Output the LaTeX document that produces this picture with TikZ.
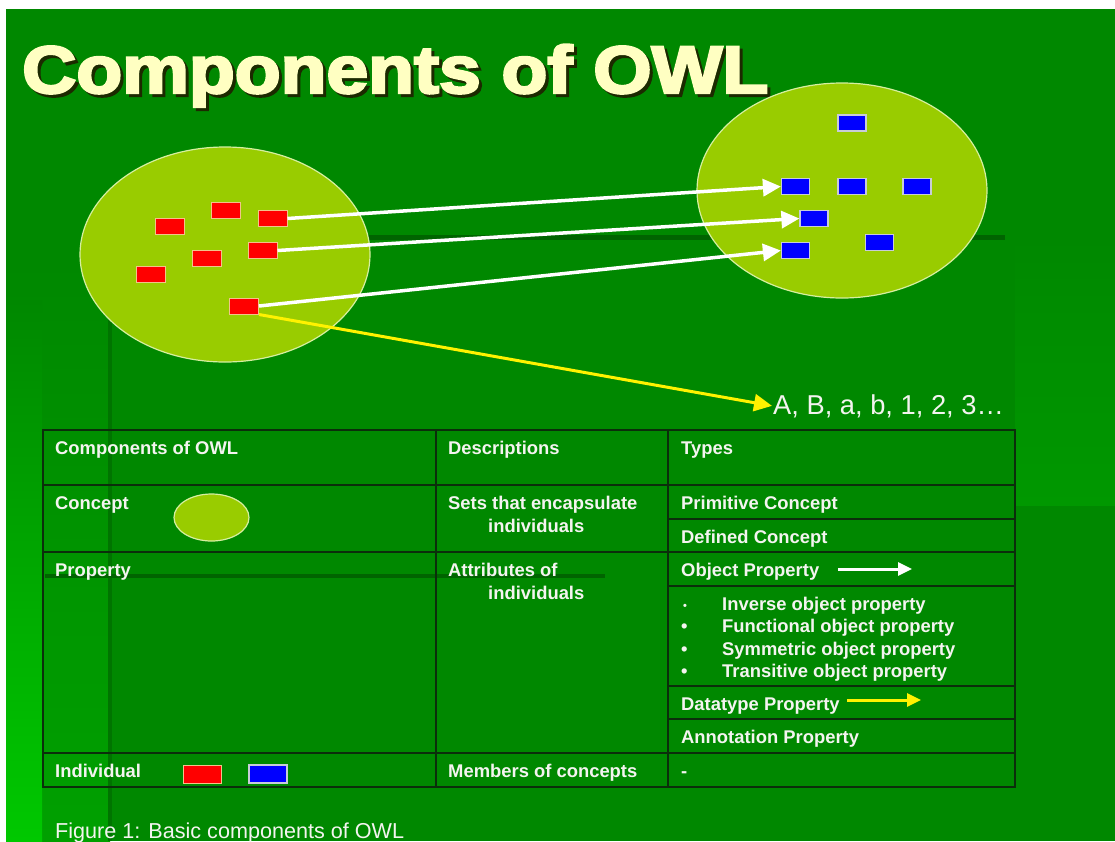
\documentclass[tikz,border=0pt]{standalone}
\usepackage{fontspec}
\setmainfont{Liberation Sans}
\newfontfamily\titlefont[FakeBold=3.5]{Liberation Sans Bold}
\usetikzlibrary{arrows.meta,shapes.geometric}

\definecolor{bggreen}{HTML}{008800}
\definecolor{brightgreen}{HTML}{00C800}
\definecolor{midgreen}{HTML}{00A000}
\definecolor{softgreen}{HTML}{009800}
\definecolor{darkband}{HTML}{006400}
\definecolor{setfill}{HTML}{99CC00}
\definecolor{setedge}{HTML}{D6EFA0}
\definecolor{redfill}{HTML}{FF0000}
\definecolor{rededge}{HTML}{F2C48A}
\definecolor{bluefill}{HTML}{0000FF}
\definecolor{blueedge}{HTML}{C8CCD8}
\definecolor{gridline}{HTML}{0B2E0B}
\definecolor{titlecol}{HTML}{FFFFC2}
\definecolor{titleshade}{HTML}{1C2A00}
\definecolor{softwhite}{HTML}{F4F4F0}

\newcommand\owltitletext{\titlefont\fontsize{67}{70}\selectfont\scalebox{1.12}[1]{Components of OWL}}

\tikzset{
  conceptset/.style={ellipse, draw=setedge, fill=setfill, line width=1.2pt, inner sep=0pt},
  redind/.style={draw=rededge, fill=redfill, line width=1pt, minimum width=29pt, minimum height=16pt, inner sep=0pt},
  blueind/.style={draw=blueedge, fill=bluefill, line width=1.2pt, minimum width=28pt, minimum height=16pt, inner sep=0pt},
  objarrow/.style={draw=white, line width=3.5pt, -{Triangle[length=18pt,width=17pt]}},
  dataarrow/.style={draw=yellow, line width=3pt, -{Triangle[length=18pt,width=17pt]}},
  legendwhite/.style={draw=white, line width=3pt, -{Triangle[length=14pt,width=13pt]}},
  legendyellow/.style={draw=yellow, line width=3pt, -{Triangle[length=14pt,width=13pt]}},
  celltext/.style={anchor=base west, inner sep=0pt, text=softwhite, font=\fontsize{18.4}{22}\selectfont\bfseries},
  grid/.style={draw=gridline, line width=1.3pt},
}

\begin{document}
\begin{tikzpicture}[x=1pt, y=-1pt]
\useasboundingbox (0,0) rectangle (1115,841);

% slide background
\fill[white] (0,0) rectangle (1115,841);
\fill[bggreen] (6,9) rectangle (1115,841);
\shade[top color=bggreen, bottom color=midgreen] (6,260) rectangle (110,841);
\shade[top color=bggreen, bottom color=brightgreen] (6,300) rectangle (42,841);
\shade[top color=bggreen, bottom color=softgreen] (1015,237) rectangle (1115,505);

% template bands
\draw[darkband, line width=5pt] (360,237) -- (1005,237);
\draw[darkband!55!bggreen, line width=4pt] (110,250) -- (110,841);
\draw[darkband, line width=4pt] (45,576) -- (605,576);

% title with its drop shadow
\node[anchor=base west, inner sep=0pt, text=titleshade] (titleshadow) at (25,96) {\owltitletext};
\node[anchor=base west, inner sep=0pt, text=titlecol] (title) at (22,93) {\owltitletext};

% concepts
\node[conceptset, minimum width=290pt, minimum height=215pt] (setL) at (225,254.5) {};
\node[conceptset, minimum width=290pt, minimum height=215pt] (setR) at (842,190.5) {};

% individuals of the left concept
\node[redind] (r1) at (169.5,226.5) {};
\node[redind] (r2) at (225.5,210.5) {};
\node[redind] (r3) at (272.5,218.5) {};
\node[redind] (r4) at (206.5,258.5) {};
\node[redind] (r5) at (262.5,250.5) {};
\node[redind] (r6) at (150.5,274) {};
\node[redind] (r7) at (244,306) {};

% individuals of the right concept
\node[blueind] (b1) at (852,123) {};
\node[blueind] (b2) at (795.5,186.5) {};
\node[blueind] (b3) at (852,186.5) {};
\node[blueind] (b4) at (917,186.5) {};
\node[blueind] (b5) at (814,218.5) {};
\node[blueind] (b6) at (879.5,242.5) {};
\node[blueind] (b7) at (795.5,250.5) {};

% literal values
\node[anchor=base west, inner sep=1pt, text=softwhite, font=\fontsize{27.3}{30}\selectfont] (abc) at (772,414) {A, B, a, b, 1, 2, 3\ldots};

% object and datatype properties
\draw[objarrow] (r3.east) -- (b2.west);
\draw[objarrow] (r5.east) -- (b5.west);
\draw[objarrow] (r7.east) -- (b7.west);
\draw[dataarrow] (r7.south east) -- (abc.west);

% table grid
\draw[grid] (43,430) rectangle (1015,787);
\draw[grid] (436,430) -- (436,787);
\draw[grid] (668,430) -- (668,787);
\draw[grid] (43,485) -- (1015,485);
\draw[grid] (43,552) -- (1015,552);
\draw[grid] (43,753) -- (1015,753);
\draw[grid] (668,519) -- (1015,519);
\draw[grid] (668,586) -- (1015,586);
\draw[grid] (668,686) -- (1015,686);
\draw[grid] (668,719) -- (1015,719);

% header row
\node[celltext] (h1) at (55,454) {Components of OWL};
\node[celltext] (h2) at (448,454) {Descriptions};
\node[celltext] (h3) at (681,454) {Types};

% concept row
\node[celltext] (c1) at (55,509) {Concept};
\node[conceptset, minimum width=75pt, minimum height=47pt] (cIcon) at (211.5,517.5) {};
\node[celltext] (c2) at (448,509) {Sets that encapsulate};
\node[celltext] (c2b) at (488,532) {individuals};
\node[celltext] (c3) at (681,509) {Primitive Concept};
\node[celltext] (c4) at (681,543) {Defined Concept};

% property row
\node[celltext] (p1) at (55,576) {Property};
\node[celltext] (p2) at (448,576) {Attributes of};
\node[celltext] (p2b) at (488,599) {individuals};
\node[celltext] (p3) at (681,576) {Object Property};
\coordinate (opS) at (838,569);
\coordinate (opE) at (912,569);
\draw[legendwhite] (opS) -- (opE);
\node[celltext, font=\fontsize{11}{12}\selectfont\bfseries] (d1) at (683,609) {•};
\node[celltext] (d2) at (681,632) {•};
\node[celltext] (d3) at (681,655) {•};
\node[celltext] (d4) at (681,677) {•};
\node[celltext] (l1) at (722,610) {Inverse object property};
\node[celltext] (l2) at (722,632) {Functional object property};
\node[celltext] (l3) at (722,655) {Symmetric object property};
\node[celltext] (l4) at (722,677) {Transitive object property};
\node[celltext] (p4) at (681,710) {Datatype Property};
\coordinate (dpS) at (847,700);
\coordinate (dpE) at (921,700);
\draw[legendyellow] (dpS) -- (dpE);
\node[celltext] (p5) at (681,743) {Annotation Property};

% individual row
\node[celltext] (i1) at (55,777) {Individual};
\node[redind, minimum width=38pt, minimum height=18pt] (iRed) at (202,774) {};
\node[blueind, minimum width=38pt, minimum height=18pt] (iBlue) at (268,774) {};
\node[celltext] (i2) at (448,777) {Members of concepts};
\node[celltext] (i3) at (681,777) {-};

% caption
\node[anchor=base west, inner sep=0pt, text=softwhite, font=\fontsize{21.6}{24}\selectfont] (cap) at (55,838) {Figure 1: Basic components of OWL};
\end{tikzpicture}
\end{document}
